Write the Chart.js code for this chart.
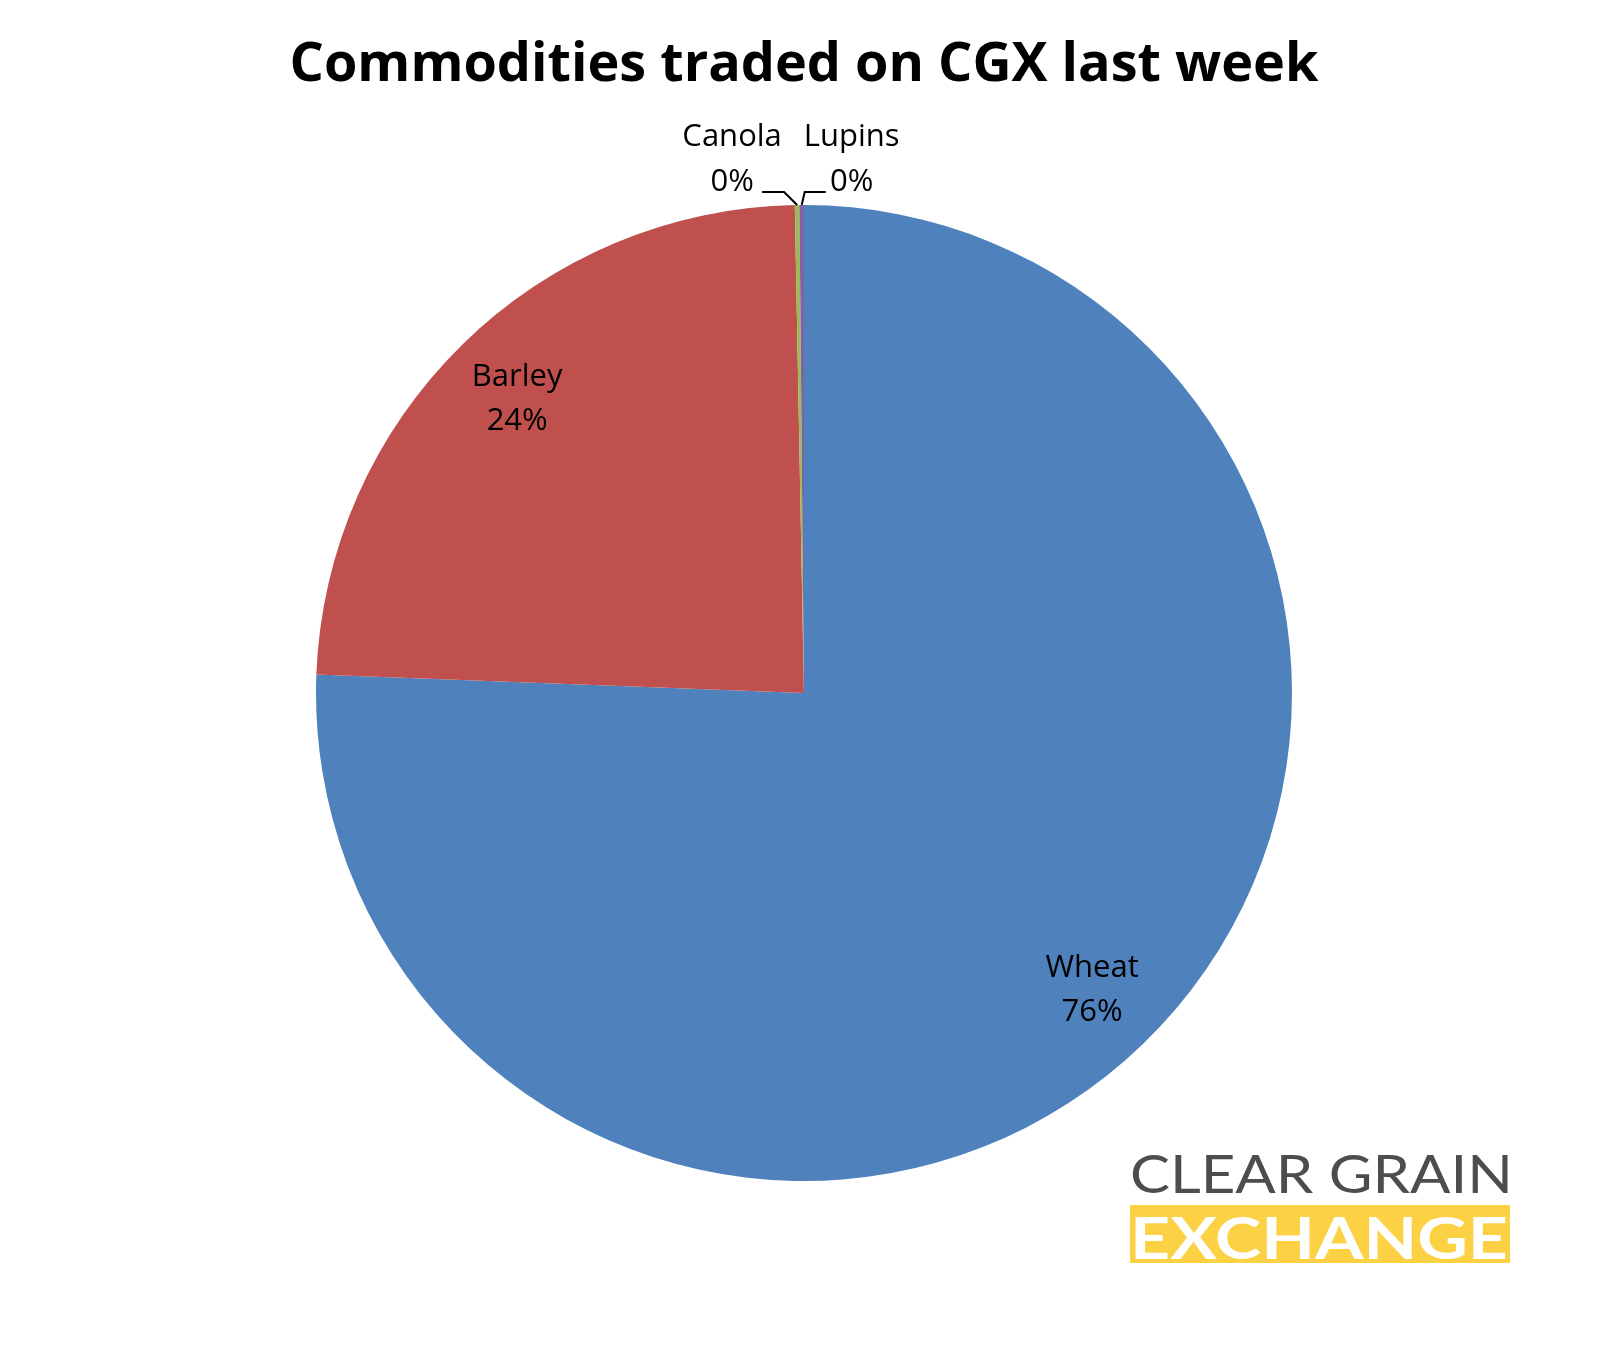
<!DOCTYPE html>
<html>
<head>
<meta charset="utf-8">
<script src="https://cdn.jsdelivr.net/npm/chart.js@4.4.1/dist/chart.umd.min.js"></script>
<style>
  html, body { margin: 0; padding: 0; background: #ffffff; }
  #wrap { position: relative; width: 1608px; height: 1350px; }
  #c { position: absolute; left: 0; top: 0; }
  #logo1 { position: absolute; left: 1130px; top: 1146px; font-family: Lato, "Open Sans", sans-serif; font-size: 53px; color: #4d4d4d; white-space: nowrap; line-height: 1; transform-origin: 0 0; }
  #logobar { position: absolute; left: 1130px; top: 1205px; width: 380px; height: 58px; background: #fcd144; overflow: hidden; }
  #logo2 { position: absolute; left: 0px; top: 3px; font-family: Lato, "Open Sans", sans-serif; font-weight: 700; font-size: 58px; color: #ffffff; white-space: nowrap; line-height: 1; transform-origin: 0 0; }
</style>
</head>
<body>
<div id="wrap">
  <canvas id="c" width="1608" height="1350"></canvas>
  <div id="logo1">CLEAR GRAIN</div>
  <div id="logobar"><div id="logo2">EXCHANGE</div></div>
</div>
<script>
const categories = ["Wheat", "Barley", "Canola", "Lupins"];
const shares = [75.6, 24.1, 0.15, 0.15];
const colors = ["#4f81bd", "#c0504d", "#9bbb59", "#8064a2"];
const titleText = "Commodities traded on CGX last week";

function fitWidth(el, w) {
  const r = el.getBoundingClientRect();
  el.style.transform = "scaleX(" + (w / r.width) + ")";
}
fitWidth(document.getElementById('logo1'), 383);
fitWidth(document.getElementById('logo2'), 378);

const total = shares.reduce((a, b) => a + b, 0);
const pct = v => Math.round(v / total * 100) + '%';

const labelPlugin = {
  id: 'pieLabels',
  afterDatasetsDraw(chart) {
    const ctx = chart.ctx;
    const meta = chart.getDatasetMeta(0);
    ctx.save();
    ctx.font = '31px "Open Sans", sans-serif';
    ctx.fillStyle = '#000000';
    ctx.textAlign = 'center';
    ctx.textBaseline = 'middle';
    meta.data.forEach((arc, i) => {
      const p = arc.getProps(['x', 'y', 'startAngle', 'endAngle', 'outerRadius'], true);
      const mid = (p.startAngle + p.endAngle) / 2;
      const v = shares[i];
      if (v / total >= 0.05) {
        const r = p.outerRadius * 0.845;
        const lx = p.x + Math.cos(mid) * r;
        const ly = p.y + Math.sin(mid) * r;
        ctx.fillText(categories[i], lx + 2, ly - 22);
        ctx.fillText(pct(v), lx + 2, ly + 22);
      } else {
        const ax = p.x + Math.cos(mid) * p.outerRadius;
        const ay = p.y + Math.sin(mid) * p.outerRadius;
        const left = i === 2;
        ctx.strokeStyle = '#000000';
        ctx.lineWidth = 2;
        ctx.beginPath();
        ctx.moveTo(ax, ay);
        if (left) {
          ctx.lineTo(ax - 13, ay - 13);
          ctx.lineTo(ax - 35, ay - 13);
        } else {
          ctx.lineTo(ax + 3, ay - 13);
          ctx.lineTo(ax + 24, ay - 13);
        }
        ctx.stroke();
        const bx = left ? ax - 65 : ax + 50;
        ctx.fillText(categories[i], bx, ay - 68);
        ctx.fillText(pct(v), bx, ay - 23);
      }
    });
    ctx.restore();
  }
};

const S = 54;
const T = 66 - 0.6 * S;
new Chart(document.getElementById('c'), {
  type: 'pie',
  data: {
    labels: categories,
    datasets: [{
      data: shares,
      backgroundColor: colors,
      borderWidth: 0
    }]
  },
  options: {
    responsive: false,
    animation: false,
    layout: { padding: { top: 0, bottom: 169, left: 0, right: 0 } },
    plugins: {
      legend: { display: false },
      tooltip: { enabled: false },
      title: {
        display: true,
        text: titleText,
        color: '#000000',
        font: { family: '"Open Sans", sans-serif', weight: 'bold', size: S, lineHeight: 1.2 },
        padding: { top: T, bottom: 205 - T - 1.2 * S }
      }
    }
  },
  plugins: [labelPlugin]
});
</script>
</body>
</html>
